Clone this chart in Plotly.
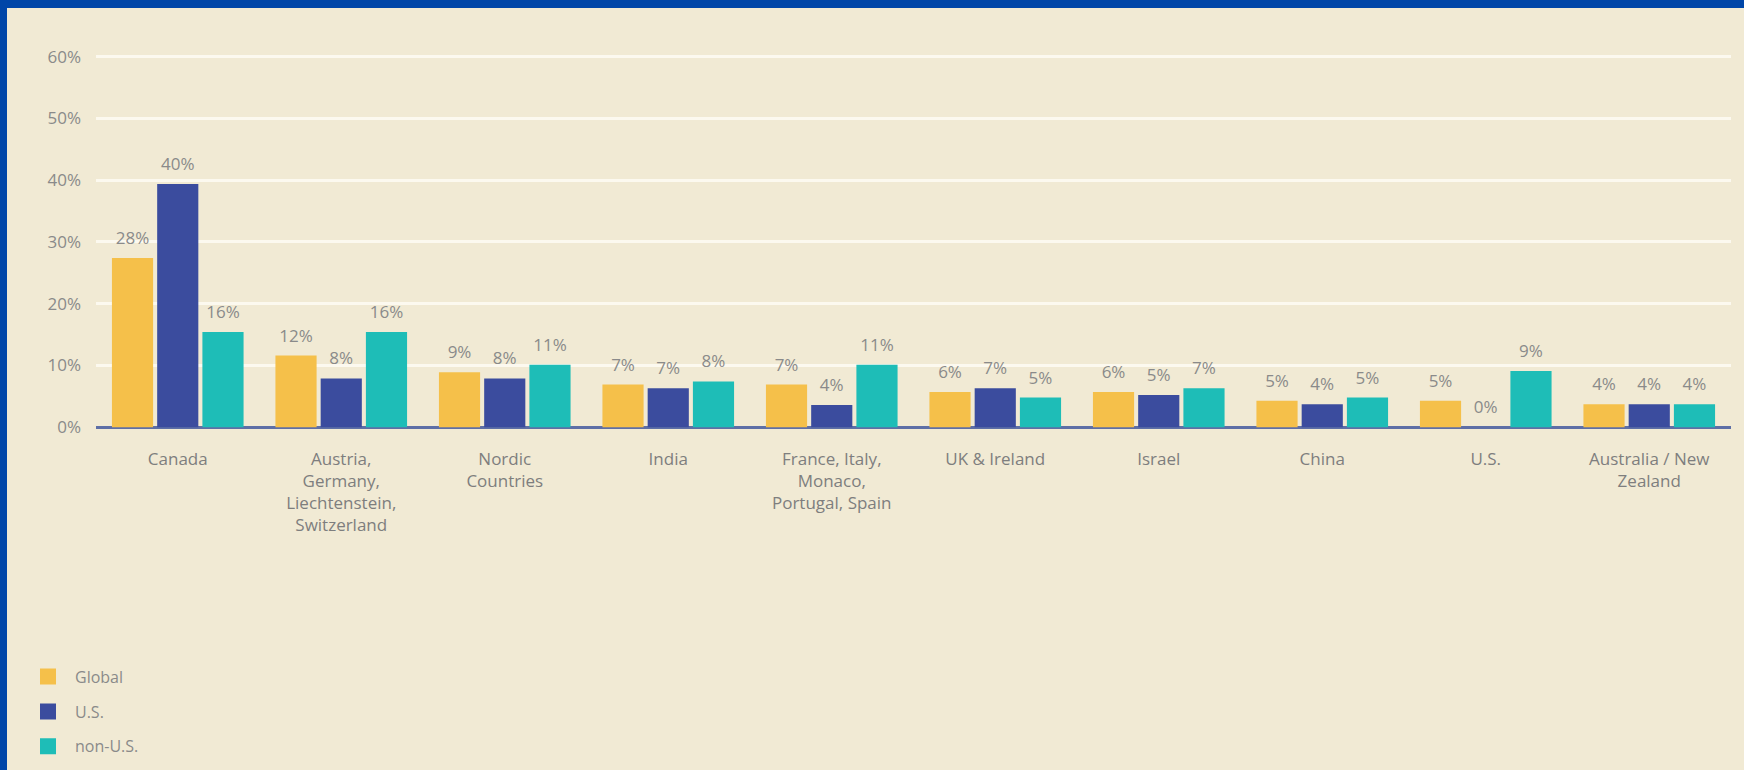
import plotly.graph_objects as go

# ---------------- data ----------------
categories = ["Canada", "Austria, Germany, Liechtenstein, Switzerland", "Nordic Countries",
              "India", "France, Italy, Monaco, Portugal, Spain", "UK & Ireland", "Israel",
              "China", "U.S.", "Australia / New Zealand"]
category_ticklabels = ["Canada", "Austria,<br>Germany,<br>Liechtenstein,<br>Switzerland",
                       "Nordic<br>Countries", "India", "France, Italy,<br>Monaco,<br>Portugal, Spain",
                       "UK & Ireland", "Israel", "China", "U.S.", "Australia / New<br>Zealand"]
series_names = ["Global", "U.S.", "non-U.S."]
global_values = [27.4, 11.6, 8.9, 6.9, 6.9, 5.7, 5.7, 4.3, 4.3, 3.7]
us_values = [39.4, 7.9, 7.9, 6.3, 3.6, 6.3, 5.2, 3.7, 0.0, 3.7]
nonus_values = [15.4, 15.4, 10.1, 7.4, 10.1, 4.8, 6.3, 4.8, 9.1, 3.7]
global_labels = ["28%", "12%", "9%", "7%", "7%", "6%", "6%", "5%", "5%", "4%"]
us_labels = ["40%", "8%", "8%", "7%", "4%", "7%", "5%", "4%", "0%", "4%"]
nonus_labels = ["16%", "16%", "11%", "8%", "11%", "5%", "7%", "5%", "9%", "4%"]
y_tickvals = [0, 10, 20, 30, 40, 50, 60]
y_ticklabels = ["0%", "10%", "20%", "30%", "40%", "50%", "60%"]

# ---------------- style ----------------
W, H = 1744, 770
PL, PR, PT, PB = 96, 1731, 45, 436   # plot area in pixels
BORDER = 7
colors = ["#F5C04A", "#3B4C9E", "#1EBDB7"]
cream = "#F1EAD4"
blue_border = "#0046A8"
font_family = "Open Sans, Noto Sans, sans-serif"
text_grey = "#8A8A8A"

values = [global_values, us_values, nonus_values]
labels = [global_labels, us_labels, nonus_labels]

fig = go.Figure()
for name, vals, col in zip(series_names, values, colors):
    fig.add_trace(go.Bar(x=categories, y=vals, name=name, marker=dict(color=col, line=dict(width=0)),
                         showlegend=False, hoverinfo="skip"))
for name, vals, labs in zip(series_names, values, labels):
    fig.add_trace(go.Scatter(x=categories, y=vals, text=labs, mode="markers+text",
                             textposition="top center",
                             marker=dict(size=14, color="rgba(0,0,0,0)"),
                             textfont=dict(size=17, color=text_grey, family=font_family),
                             showlegend=False, hoverinfo="skip", cliponaxis=False))
# legend entries
for name, col in zip(series_names, colors):
    fig.add_trace(go.Scatter(x=[None], y=[None], name=name, mode="markers",
                             marker=dict(symbol="square", size=16, color=col),
                             xaxis="x2", yaxis="y2", legendgroup=name, showlegend=True))

fig.add_shape(type="rect", xref="paper", yref="paper", layer="below",
              x0=BORDER / W, x1=1.02, y0=-0.02, y1=1 - BORDER / H,
              fillcolor=cream, line=dict(width=0))

ppu = 6.2  # pixels per percent
xdom = [PL / W, PR / W]
ydom = [1 - PB / H, 1 - PT / H]
fig.update_layout(
    width=W, height=H,
    margin=dict(l=0, r=0, t=0, b=0, pad=0),
    paper_bgcolor=blue_border, plot_bgcolor="rgba(0,0,0,0)",
    barmode="group", bargap=0.17, bargroupgap=0.09,
    scattermode="group", scattergap=0.17,
    font=dict(family=font_family, color=text_grey, size=17),
    xaxis=dict(domain=xdom, tickmode="array", tickvals=categories, ticktext=category_ticklabels,
               showgrid=False, zeroline=False, showline=False, ticks="",
               tickfont=dict(size=17, color="#7E7E7E"), ticklabelstandoff=13),
    yaxis=dict(domain=ydom, range=[-7 / ppu, 60 + 11 / ppu], tickvals=y_tickvals, ticktext=y_ticklabels,
               showgrid=True, gridcolor="#FCF9EF", gridwidth=3,
               zeroline=True, zerolinecolor="#5E6FA6", zerolinewidth=3,
               showline=False, ticks="", tickfont=dict(size=17, color=text_grey),
               ticklabelstandoff=14),
    xaxis2=dict(domain=xdom, anchor="y2", overlaying="x", visible=False, range=[0, 1]),
    yaxis2=dict(domain=ydom, anchor="x2", overlaying="y", visible=False, range=[0, 1]),
    legend=dict(x=21 / W, y=1 - 663 / H, xanchor="left", yanchor="top",
                bgcolor="rgba(0,0,0,0)", itemwidth=44,
                font=dict(size=16, color=text_grey, family=font_family),
                tracegroupgap=11, itemclick=False, itemdoubleclick=False),
)

fig.write_html("out.html", config={"displayModeBar": False},
               post_script="document.body.style.margin='0';document.body.style.overflow='hidden';")
